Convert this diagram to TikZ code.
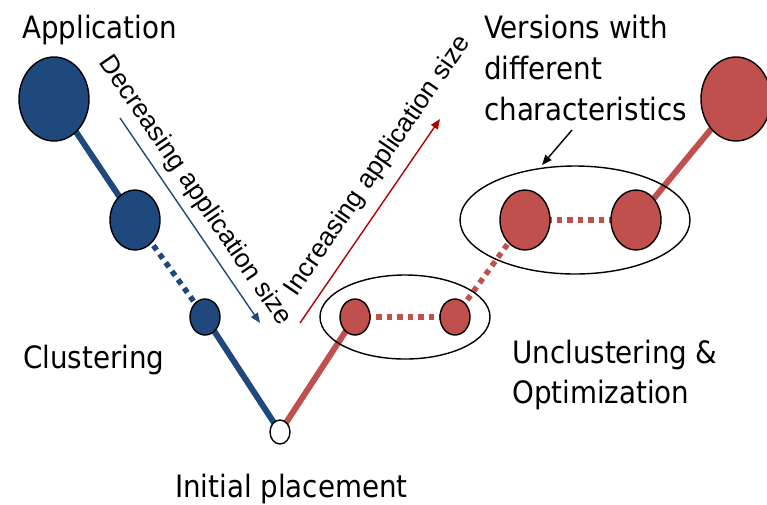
\documentclass[tikz,border=0pt]{standalone}
\usepackage{fontspec}
\setmainfont{DejaVu Sans Condensed}
\newfontfamily\arrowfont{Liberation Sans}
\usetikzlibrary{shapes.geometric,arrows.meta,backgrounds}
\definecolor{appblue}{RGB}{31,73,125}
\definecolor{appred}{RGB}{192,80,77}
\definecolor{darkred}{RGB}{176,0,0}
\tikzset{
  proc/.style={ellipse, draw=black, line width=1.4pt, inner sep=0pt},
  bluenode/.style={proc, fill=appblue},
  rednode/.style={proc, fill=appred},
  group/.style={ellipse, draw=black, line width=1.4pt, inner sep=0pt},
  solidlink/.style={line width=6pt},
  dotlink/.style={line width=5.5pt, dash pattern=on 5.5pt off 5pt},
  thinarrow/.style={line width=1.4pt, -{Triangle[length=10pt,width=8pt]}},
  label/.style={font=\fontsize{30.8}{36}\selectfont, anchor=base west, inner sep=0pt},
  sizelabel/.style={font=\arrowfont\fontsize{26.3}{30}\selectfont, inner sep=0pt},
}
\begin{document}
\begin{tikzpicture}[x=1pt, y=-1pt]
\useasboundingbox (0,0) rectangle (767,504);

% clustering path (blue)
\node[bluenode, minimum width=70pt, minimum height=84pt] (b1) at (54,99) {};
\node[bluenode, minimum width=50pt, minimum height=60pt] (b2) at (135,220) {};
\node[bluenode, minimum width=30pt, minimum height=36pt] (b3) at (205,317) {};
\node[proc, fill=white, minimum width=20pt, minimum height=24pt] (init) at (280,432) {};

% unclustering path (red)
\node[rednode, minimum width=30pt, minimum height=36pt] (r1) at (355,317) {};
\node[rednode, minimum width=30pt, minimum height=36pt] (r2) at (455,317) {};
\node[group, minimum width=170pt, minimum height=84pt] (g1) at (405,317) {};
\node[rednode, minimum width=50pt, minimum height=60pt] (r3) at (525,220) {};
\node[rednode, minimum width=50pt, minimum height=60pt] (r4) at (636,220) {};
\node[group, minimum width=230pt, minimum height=108pt] (g2) at (575,220) {};
\node[rednode, minimum width=70pt, minimum height=84pt] (r5) at (736,99) {};

\begin{scope}[on background layer]
  \draw[appblue, solidlink] (b1.center) -- (b2.center);
  \draw[appblue, dotlink] (b2.center) -- (b3.center);
  \draw[appblue, solidlink] (b3.center) -- (init.center);
  \draw[appred, solidlink] (init.center) -- (r1.center);
  \draw[appred, dotlink] (r1.center) -- (r2.center);
  \draw[appred, dotlink] (r2.center) -- (r3.center);
  \draw[appred, dotlink] (r3.center) -- (r4.center);
  \draw[appred, solidlink] (r4.center) -- (r5.center);
\end{scope}

% direction arrows
\coordinate (decA) at (120,118);
\coordinate (decB) at (260,323);
\coordinate (incA) at (300,323);
\coordinate (incB) at (440,119);
\coordinate (verA) at (572,130);
\coordinate (verB) at (542,165);
\draw[thinarrow, appblue] (decA) -- (decB);
\draw[thinarrow, darkred] (incA) -- (incB);
\draw[thinarrow, black] (verA) -- (verB);

\node[sizelabel, rotate=-55.6] (dectext) at (195,191) {Decreasing application size};
\node[sizelabel, rotate=55.6] (inctext) at (378,166) {Increasing application size};

% stage labels
\node[label] (app) at (22,38) {Application};
\node[label] (clu) at (23,368) {Clustering};
\node[label] (ini) at (175,497) {Initial placement};
\node[label] (ver1) at (484,38) {Versions with};
\node[label] (ver2) at (484,79) {different};
\node[label] (ver3) at (484,120) {characteristics};
\node[label] (unc1) at (512,363) {Unclustering \&};
\node[label] (unc2) at (512,403) {Optimization};
\end{tikzpicture}
\end{document}
